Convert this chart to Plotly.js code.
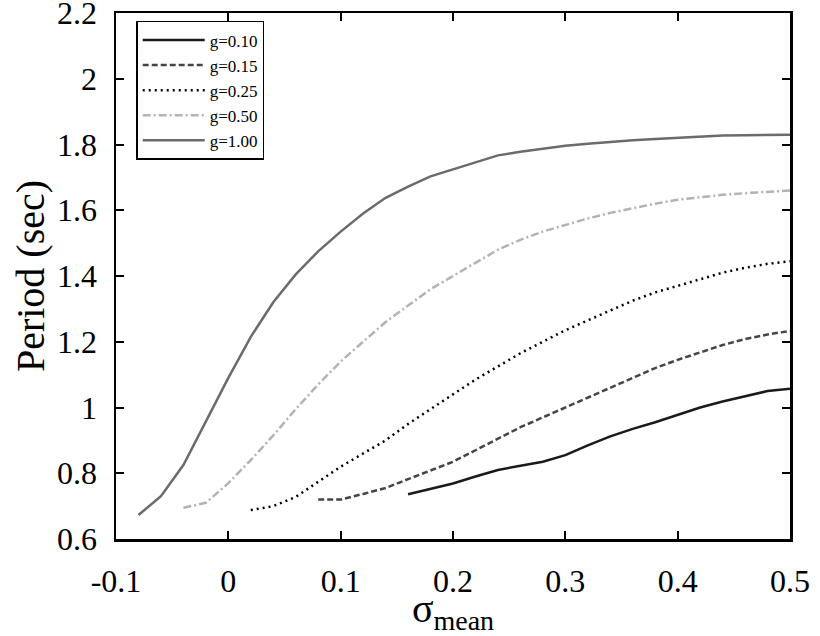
<!DOCTYPE html>
<html>
<head>
<meta charset="utf-8">
<script src="https://cdn.plot.ly/plotly-3.0.1.min.js"></script>
<style>html,body{margin:0;padding:0;background:#fff;}#chart{width:820px;height:636px;}</style>
</head>
<body>
<div id="chart"></div>
<script>
// ---- data ----
const x_g010 = [0.16,0.18,0.20,0.22,0.24,0.26,0.28,0.30,0.32,0.34,0.36,0.38,0.40,0.42,0.44,0.46,0.48,0.50];
const y_g010 = [0.736,0.752,0.769,0.790,0.810,0.823,0.835,0.855,0.885,0.912,0.935,0.955,0.978,1.000,1.018,1.035,1.050,1.057];

const x_g015 = [0.08,0.10,0.12,0.14,0.16,0.18,0.20,0.22,0.24,0.26,0.28,0.30,0.32,0.34,0.36,0.38,0.40,0.42,0.44,0.46,0.48,0.50];
const y_g015 = [0.720,0.720,0.737,0.755,0.782,0.808,0.835,0.870,0.905,0.940,0.970,1.000,1.030,1.060,1.090,1.120,1.145,1.168,1.190,1.208,1.222,1.233];

const x_g025 = [0.02,0.04,0.06,0.08,0.10,0.12,0.14,0.16,0.18,0.20,0.22,0.24,0.26,0.28,0.30,0.32,0.34,0.36,0.38,0.40,0.42,0.44,0.46,0.48,0.50];
const y_g025 = [0.688,0.700,0.728,0.775,0.820,0.860,0.900,0.950,0.995,1.040,1.085,1.125,1.165,1.200,1.235,1.265,1.295,1.325,1.350,1.370,1.390,1.410,1.425,1.437,1.445];

const x_g050 = [-0.04,-0.02,0.00,0.02,0.04,0.06,0.08,0.10,0.12,0.14,0.16,0.18,0.20,0.22,0.24,0.26,0.28,0.30,0.32,0.34,0.36,0.38,0.40,0.42,0.44,0.46,0.48,0.50];
const y_g050 = [0.695,0.710,0.770,0.840,0.915,0.995,1.070,1.140,1.200,1.260,1.310,1.360,1.400,1.440,1.480,1.510,1.535,1.555,1.575,1.592,1.607,1.620,1.632,1.640,1.647,1.652,1.656,1.660];

const x_g100 = [-0.08,-0.06,-0.04,-0.02,0.00,0.02,0.04,0.06,0.08,0.10,0.12,0.14,0.16,0.18,0.20,0.22,0.24,0.26,0.28,0.30,0.32,0.34,0.36,0.38,0.40,0.42,0.44,0.46,0.48,0.50];
const y_g100 = [0.673,0.730,0.825,0.960,1.090,1.215,1.320,1.405,1.475,1.535,1.590,1.638,1.672,1.703,1.725,1.745,1.767,1.778,1.788,1.796,1.802,1.808,1.813,1.817,1.821,1.825,1.827,1.828,1.830,1.830];

const seriesNames = ["g=0.10","g=0.15","g=0.25","g=0.50","g=1.00"];
const xTickVals = [-0.1,0,0.1,0.2,0.3,0.4,0.5];
const xTickText = ["-0.1","0","0.1","0.2","0.3","0.4","0.5"];
const yTickVals = [0.6,0.8,1.0,1.2,1.4,1.6,1.8,2.0,2.2];
const yTickText = ["0.6","0.8","1","1.2","1.4","1.6","1.8","2","2.2"];

const FONT = "Liberation Serif, Times New Roman, serif";

const traces = [
  {x:x_g010, y:y_g010, name:seriesNames[0], line:{color:"#1a1a1a", width:2.5, dash:"solid"}},
  {x:x_g015, y:y_g015, name:seriesNames[1], line:{color:"#454545", width:2.5, dash:"6px,3px"}},
  {x:x_g025, y:y_g025, name:seriesNames[2], line:{color:"#000000", width:2.5, dash:"2px,4px"}},
  {x:x_g050, y:y_g050, name:seriesNames[3], line:{color:"#b3b3b3", width:2.5, dash:"8px,3px,2px,3px"}},
  {x:x_g100, y:y_g100, name:seriesNames[4], line:{color:"#6b6b6b", width:2.5, dash:"solid"}}
].map(t => Object.assign({type:"scatter", mode:"lines"}, t));

const axisCommon = {
  showgrid:false, zeroline:false, showline:true, linecolor:"#000", linewidth:2.5,
  mirror:"ticks", ticks:"inside", ticklen:8, tickwidth:2, tickcolor:"#000",
  ticklabeloverflow:"allow",
  tickfont:{family:FONT, size:32, color:"#000"}
};

const layout = {
  width:820, height:636,
  margin:{l:116, r:30, t:13, b:97},
  paper_bgcolor:"#fff", plot_bgcolor:"#fff",
  font:{family:FONT, color:"#000"},
  showlegend:true,
  legend:{
    x:0.03, y:0.985, xanchor:"left", yanchor:"top",
    bordercolor:"#000", borderwidth:1.5, bgcolor:"#fff",
    font:{family:FONT, size:17, color:"#000"},
    itemwidth:62, tracegroupgap:0
  },
  xaxis:Object.assign({}, axisCommon, {
    range:[-0.1,0.5], tickmode:"array", tickvals:xTickVals, ticktext:xTickText,
    ticklabelstandoff:12,
    title:{text:"σ<sub>mean</sub>", font:{family:FONT, size:40, color:"#000"}, standoff:2}
  }),
  yaxis:Object.assign({}, axisCommon, {
    range:[0.6,2.2], tickmode:"array", tickvals:yTickVals, ticktext:yTickText,
    ticklabelstandoff:10,
    title:{text:"Period (sec)", font:{family:FONT, size:40, color:"#000"}, standoff:0}
  })
};

Plotly.newPlot("chart", traces, layout, {displayModeBar:false, staticPlot:true});
</script>
</body>
</html>
